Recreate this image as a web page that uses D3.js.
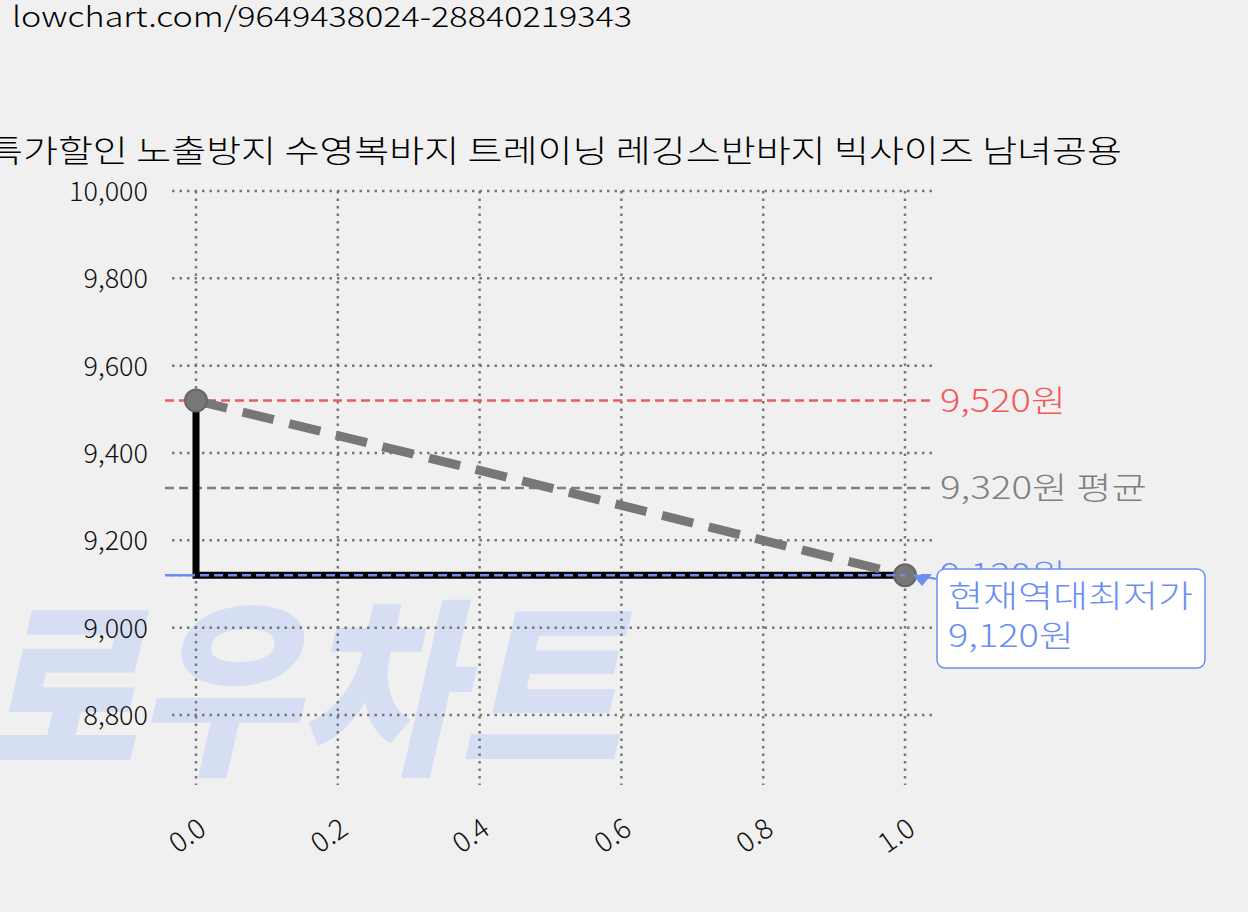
<!DOCTYPE html><html><head><meta charset="utf-8"><script src="https://cdn.jsdelivr.net/npm/d3@7"></script>
<style>body{margin:0;background:#f0f0f0}text{font-family:"Noto Sans CJK KR",Roboto,sans-serif;font-weight:300}</style></head><body>
<svg id="c" width="1248" height="912"></svg>
<script>
const xs=[0,1];
const prices=[9520,9120];
const yTicks=[8800,9000,9200,9400,9600,9800,10000];
const xTicks=[0,0.2,0.4,0.6,0.8,1.0];
const maxP=9520,avgP=9320,minP=9120;
const title="특가할인 노출방지 수영복바지 트레이닝 레깅스반바지 빅사이즈 남녀공용";
const source="lowchart.com/9649438024-28840219343";
const svg=d3.select("#c");
const x=d3.scaleLinear().domain([0,1]).range([196,905]);
const y=d3.scaleLinear().domain([8800,10000]).range([715,191]);
svg.append("text").attr("x",-25).attr("y",760).attr("font-size",190).style("font-weight",900).attr("font-style","italic").attr("fill","#d5def2").attr("textLength",645).attr("lengthAdjust","spacingAndGlyphs").text("로우차트");
svg.append("text").attr("x",12).attr("y",27).attr("font-size",28).attr("fill","#000").attr("textLength",620).attr("lengthAdjust","spacingAndGlyphs").text(source);
svg.append("text").attr("x",-12).attr("y",162).attr("font-size",31).attr("fill","#000").attr("textLength",1134).attr("lengthAdjust","spacingAndGlyphs").text(title);
const g=svg.append("g");
yTicks.forEach(t=>{g.append("line").attr("x1",172).attr("x2",935).attr("y1",y(t)).attr("y2",y(t)).attr("stroke","#777").attr("stroke-width",2.5).attr("stroke-dasharray","2.5,5");
 g.append("text").attr("x",148).attr("y",y(t)+10).attr("text-anchor","end").attr("font-size",27).attr("fill","#111").text(d3.format(",")(t));});
xTicks.forEach(t=>{g.append("line").attr("x1",x(t)).attr("x2",x(t)).attr("y1",191).attr("y2",785).attr("stroke","#777").attr("stroke-width",2.5).attr("stroke-dasharray","2.5,5");
 g.append("text").attr("transform",`translate(${x(t)+12},${833}) rotate(-35)`).attr("text-anchor","end").attr("font-size",28).attr("fill","#111").text(t.toFixed(1));});
const ref=[[maxP,"#f05a5a",d3.format(",")(maxP)+"원",126],[avgP,"#808080",d3.format(",")(avgP)+"원 평균",207],[minP,"#6a8ff0",d3.format(",")(minP)+"원",126]];
ref.forEach(([v,c,l,w])=>{g.append("line").attr("x1",165).attr("x2",935).attr("y1",y(v)).attr("y2",y(v)).attr("stroke",c).attr("stroke-width",2.5).attr("stroke-dasharray","9,5");
 g.append("text").attr("x",940).attr("y",y(v)+11).attr("font-size",31).attr("fill",c).attr("textLength",w).attr("lengthAdjust","spacingAndGlyphs").text(l);});
const pts=xs.map((d,i)=>[x(d),y(prices[i])]);
g.append("path").attr("d",d3.line().curve(d3.curveStepBefore)(pts)).attr("fill","none").attr("stroke","#000").attr("stroke-width",7);
g.append("path").attr("d",d3.line()(pts)).attr("fill","none").attr("stroke","#777").attr("stroke-width",9).attr("stroke-dasharray","32,16");
pts.forEach(p=>g.append("circle").attr("cx",p[0]).attr("cy",p[1]).attr("r",11).attr("fill","#777").attr("stroke","#666").attr("stroke-width",2));
g.append("line").attr("x1",172).attr("x2",905).attr("y1",y(minP)).attr("y2",y(minP)).attr("stroke","#6a8ff0").attr("stroke-width",2.5).attr("stroke-dasharray","9,5");
g.append("rect").attr("x",937).attr("y",569).attr("width",268).attr("height",99).attr("rx",8).attr("fill","#fff").attr("stroke","#6a8ff0").attr("stroke-width",1.5);
g.append("path").attr("d",`M${x(1)+8},${y(minP)} L932,574 L922,586 Z`).attr("fill","#6a8ff0");
g.append("line").attr("x1",x(1)+10).attr("y1",y(minP)).attr("x2",937).attr("y2",579).attr("stroke","#6a8ff0").attr("stroke-width",2);
g.append("text").attr("x",948).attr("y",607).attr("font-size",31).attr("fill","#6a8ff0").attr("textLength",245).attr("lengthAdjust","spacingAndGlyphs").text("현재역대최저가");
g.append("text").attr("x",948).attr("y",647).attr("font-size",31).attr("fill","#6a8ff0").attr("textLength",126).attr("lengthAdjust","spacingAndGlyphs").text(d3.format(",")(minP)+"원");
</script></body></html>
